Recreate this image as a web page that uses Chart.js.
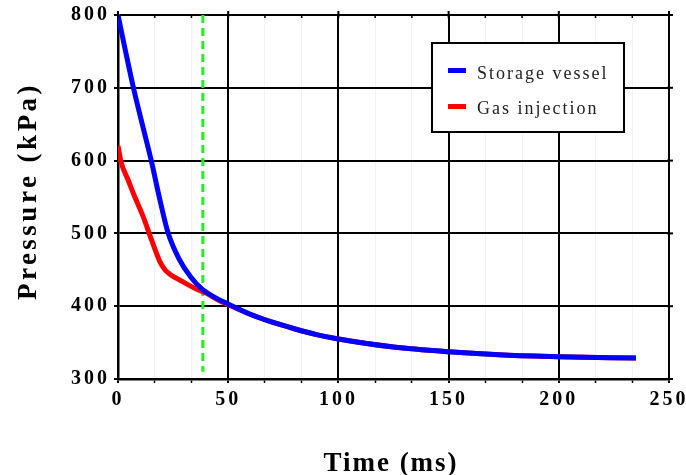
<!DOCTYPE html>
<html>
<head>
<meta charset="utf-8">
<script src="https://cdn.jsdelivr.net/npm/chart.js@4/dist/chart.umd.min.js"></script>
<style>
  html, body { margin: 0; padding: 0; background: #fff; }
</style>
</head>
<body>
<canvas id="pressureChart" width="686" height="475"></canvas>
<script>
// tick values
const xMajor = [0, 50, 100, 150, 200, 250];
const yMajor = [300, 400, 500, 600, 700, 800];

// storage vessel pressure (kPa) vs time (ms)
const storageTime = [0, 3.3, 7, 11, 15.1, 18.5, 22.6, 27.7, 33, 38.3, 44.6, 50, 60, 70, 80, 90, 100, 125, 150, 175, 200, 235];
const storagePressure = [800, 752, 700, 650, 600, 553, 502, 465, 440, 423, 411, 403, 389, 378, 369, 361, 355, 344, 337.5, 333, 330.6, 328.8];

// gas injection pressure (kPa) vs time (ms)
const injectionTime = [0, 1.5, 4.5, 7.5, 11.3, 15.1, 18.9, 21.3, 23.5, 28.6, 35.3, 40, 44.6, 50, 60, 70, 80, 90, 100, 125, 150, 175, 200, 235];
const injectionPressure = [620, 597, 574, 551, 524, 492, 462, 450, 444, 435, 424, 418, 410, 402, 389, 378, 369, 361, 355, 344, 337.5, 333, 330.6, 328.8];

// green dashed marker
const markerTime = [38.5, 38.5];
const markerPressure = [800, 310];

const seriesLabels = ["Storage vessel", "Gas injection"];
const xTitle = "Time (ms)";
const yTitle = "Pressure (kPa)";

const FONT = "'Liberation Serif', 'Times New Roman', serif";

function pairs(xs, ys) {
    return xs.map((x, i) => ({ x: x, y: ys[i] }));
}

function withMinor(majors) {
    const out = [];
    majors.forEach((v, i) => {
        out.push({ value: v, major: true });
        if (i < majors.length - 1) {
            const step = (majors[i + 1] - v) / 3;
            out.push({ value: v + step, major: false });
            out.push({ value: v + 2 * step, major: false });
        }
    });
    return out;
}

const decorations = {
    id: "decorations",
    beforeDraw(chart) {
        chart.ctx.letterSpacing = "3px";
    },
    afterDraw(chart) {
        const ctx = chart.ctx;
        const area = chart.chartArea;
        const xs = chart.scales.x;
        const ys = chart.scales.y;
        ctx.save();
        ctx.letterSpacing = "0px";
        // mirrored ticks on top and right edges
        ctx.strokeStyle = "#000";
        xs.ticks.forEach((t) => {
            const px = xs.getPixelForValue(t.value);
            ctx.lineWidth = t.major ? 2 : 1.5;
            ctx.beginPath();
            ctx.moveTo(px, area.top - (t.major ? 4 : 1));
            ctx.lineTo(px, area.top + 3);
            ctx.stroke();
        });
        ys.ticks.forEach((t) => {
            const py = ys.getPixelForValue(t.value);
            ctx.lineWidth = 2;
            ctx.beginPath();
            ctx.moveTo(area.right - 2, py);
            ctx.lineTo(area.right + 4, py);
            ctx.stroke();
        });

        // axis titles
        ctx.fillStyle = "#000";
        ctx.font = "bold 27px " + FONT;
        ctx.textAlign = "center";
        ctx.textBaseline = "alphabetic";
        ctx.letterSpacing = "2px";
        ctx.fillText(xTitle, 391, 471);
        ctx.save();
        ctx.translate(36, 191);
        ctx.rotate(-Math.PI / 2);
        ctx.letterSpacing = "3.5px";
        ctx.fillText(yTitle, 0, 0);
        ctx.restore();

        // legend box
        ctx.fillStyle = "#fff";
        ctx.fillRect(432, 43, 192, 89);
        ctx.lineWidth = 2;
        ctx.strokeStyle = "#000";
        ctx.strokeRect(432, 43, 192, 89);
        ctx.font = "18px " + FONT;
        ctx.textAlign = "left";
        ctx.letterSpacing = "2px";
        const rows = [{ sy: 68, ty: 79 }, { sy: 104, ty: 114 }];
        rows.forEach((r, i) => {
            ctx.fillStyle = chart.data.datasets[i].borderColor;
            ctx.fillRect(448, r.sy, 18, 5);
            ctx.fillStyle = "#222";
            ctx.fillText(seriesLabels[i], 477, r.ty);
        });
        ctx.restore();
    },
};

const ctx = document.getElementById("pressureChart");
new Chart(ctx, {
    type: "line",
    data: {
        datasets: [
            {
                label: seriesLabels[0],
                data: pairs(storageTime, storagePressure),
                borderColor: "#0000ff",
                borderWidth: 5,
                pointRadius: 0,
                cubicInterpolationMode: "monotone",
                fill: false,
            },
            {
                label: seriesLabels[1],
                data: pairs(injectionTime, injectionPressure),
                borderColor: "#ff0000",
                borderWidth: 5,
                pointRadius: 0,
                cubicInterpolationMode: "monotone",
                fill: false,
            },
            {
                label: "marker",
                data: pairs(markerTime, markerPressure),
                borderColor: "#22ee22",
                borderWidth: 3,
                borderDash: [8, 5],
                pointRadius: 0,
                fill: false,
            },
        ],
    },
    options: {
        responsive: false,
        animation: false,
        layout: { padding: { top: 15, right: 17, left: 0, bottom: 0 } },
        plugins: {
            legend: { display: false },
            tooltip: { enabled: false },
        },
        scales: {
            x: {
                type: "linear",
                min: 0,
                max: 250,
                afterBuildTicks(scale) {
                    scale.ticks = withMinor(xMajor);
                },
                afterFit(scale) {
                    scale.height = 96;
                    scale.paddingLeft = 0;
                    scale.paddingRight = 0;
                },
                ticks: {
                    color: "#000",
                    font: { family: FONT, size: 20, weight: "bold" },
                    padding: 5,
                    maxRotation: 0,
                    autoSkip: false,
                    callback: (value, index, ticks) => (ticks[index].major ? value : ""),
                },
                grid: {
                    color: (c) => (c.tick && c.tick.major ? "#000" : "#f2f2f2"),
                    lineWidth: (c) => (c.tick && c.tick.major ? 2 : 1),
                    tickColor: "#000",
                    tickLength: 4,
                    tickWidth: (c) => (c.tick && c.tick.major ? 2 : 1.5),
                },
                border: { color: "#000", width: 2.5 },
            },
            y: {
                type: "linear",
                min: 300,
                max: 800,
                afterBuildTicks(scale) {
                    scale.ticks = yMajor.map((v) => ({ value: v }));
                },
                afterFit(scale) {
                    scale.width = 118;
                    scale.paddingTop = 0;
                    scale.paddingBottom = 0;
                },
                ticks: {
                    color: "#000",
                    font: { family: FONT, size: 20, weight: "bold" },
                    padding: 4,
                },
                grid: {
                    color: "#000",
                    lineWidth: 2,
                    tickColor: "#000",
                    tickLength: 4,
                    tickWidth: 2,
                },
                border: { color: "#000", width: 2.5 },
            },
        },
    },
    plugins: [decorations],
});
</script>
</body>
</html>
